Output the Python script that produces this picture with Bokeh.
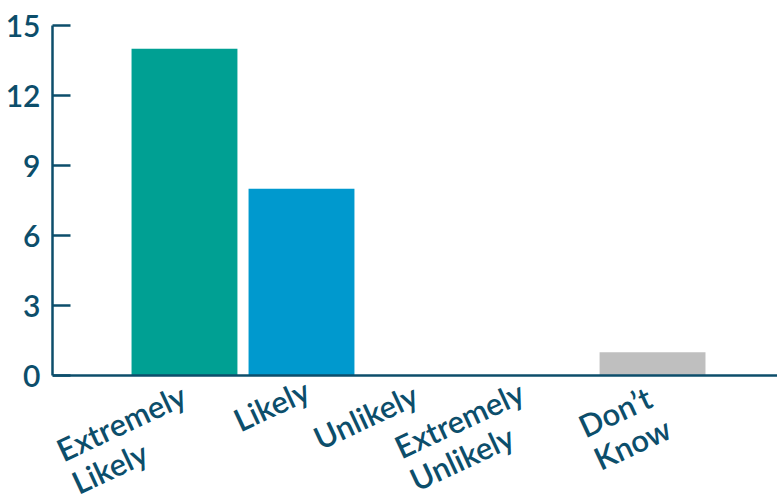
import math
from bokeh.plotting import figure
from bokeh.models import Range1d, FixedTicker, Label, Span
from bokeh.embed import file_html
from bokeh.resources import INLINE

# ---- data ----
categories = ["Extremely Likely", "Likely", "Unlikely", "Extremely Unlikely", "Don’t Know"]
label_lines = [["Extremely", "Likely"], ["Likely"], ["Unlikely"], ["Extremely", "Unlikely"], ["Don’t", "Know"]]
counts = [14, 8, 0, 0, 1]
y_ticks = [0, 3, 6, 9, 12, 15]

# ---- style ----
bar_colors = ["#00A093", "#0099CE", "#BFBFBF", "#BFBFBF", "#BFBFBF"]
ink = "#0C4E6B"
FONT = "Lato Semibold"
ANGLE = 25.0
LINE_GAP = 36.0
# screen offsets (px) of each label's first-line baseline start from (category centre, axis)
label_offsets = [(-126, 76), (-66, 46), (-103, 64), (-139, 73), (-72, 52)]

xs = list(range(len(categories)))
px_per_unit = 350.0 / 15.0
y_bottom = -125.0 / px_per_unit

p = figure(width=777, height=500, output_backend="svg", toolbar_location=None,
           x_range=Range1d(-1.128, 5.068), y_range=Range1d(y_bottom, 15),
           min_border_left=52, min_border_right=0, min_border_top=25, min_border_bottom=0)
p.background_fill_color = "white"
p.border_fill_color = "white"
p.outline_line_color = None
p.grid.visible = False

p.vbar(x=xs, top=counts, width=0.905, color=bar_colors, line_color=None)

# y axis
ya = p.yaxis[0]
ya.ticker = FixedTicker(ticks=y_ticks)
ya.bounds = (0, 15)
ya.axis_line_color = ink
ya.axis_line_width = 2.5
ya.major_tick_line_color = ink
ya.major_tick_line_width = 2.5
ya.major_tick_in = 18
ya.major_tick_out = 0
ya.minor_tick_line_color = None
ya.major_label_text_color = ink
ya.major_label_text_font = FONT
ya.major_label_text_font_size = "30px"
ya.major_label_standoff = 12

p.xaxis.visible = False
p.add_layout(Span(location=0, dimension="width", line_color=ink, line_width=2.5))

ang = math.radians(ANGLE)
for i, lines in enumerate(label_lines):
    dx0, dy0 = label_offsets[i]
    for j, txt in enumerate(lines):
        dx = dx0 + j * LINE_GAP * math.sin(ang)
        dy = dy0 + j * LINE_GAP * math.cos(ang)
        p.add_layout(Label(x=xs[i], y=-dy / px_per_unit, x_offset=dx, y_offset=0,
                           text=txt, angle=ang, text_align="left", text_baseline="alphabetic",
                           text_font=FONT, text_font_size="31px", text_color=ink))

open("out.html", "w").write(file_html(p, INLINE))
